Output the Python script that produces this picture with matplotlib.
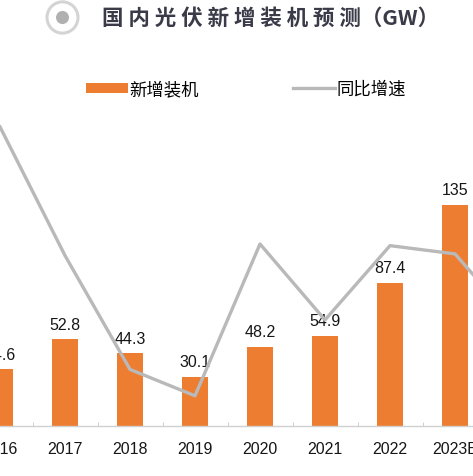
import matplotlib
matplotlib.use("Agg")
import matplotlib.pyplot as plt
from matplotlib.patches import Patch, Circle
from matplotlib.lines import Line2D

plt.rcParams['font.family'] = ['Liberation Sans', 'Noto Sans CJK SC', 'DejaVu Sans']

# ---- data ----
years = ['2016', '2017', '2018', '2019', '2020', '2021', '2022', '2023E', '2024E']
installed = [34.6, 52.8, 44.3, 30.1, 48.2, 54.9, 87.4, 135, 147]   # GW
growth = [131, 53, -16, -32, 60, 14, 59, 54, 9]                      # %
value_labels = ['34.6', '52.8', '44.3', '30.1', '48.2', '54.9', '87.4', '135', '']
title = '国 内 光 伏 新 增 装 机 预 测（GW）'
bar_name = '新增装机'
line_name = '同比增速'

W, H = 473, 477
fig = plt.figure(figsize=(W / 100, H / 100), dpi=100)
fig.patch.set_facecolor('white')

# axes geometry in pixels
px_per_cat = 65.0
x0_px = 0.0                       # centre of first category
left_px = x0_px - 0.5 * px_per_cat
right_px = x0_px + (len(years) - 0.5) * px_per_cat
base_px = 427                     # baseline from top
top_px = 100
ax = fig.add_axes([left_px / W, (H - base_px) / H,
                   (right_px - left_px) / W, (base_px - top_px) / H])
ax.set_facecolor('none')

x = list(range(len(years)))
bars = ax.bar(x, installed, width=0.4, color='#ED7D31', zorder=2)
ax.set_xlim(-0.5, len(years) - 0.5)
ax.set_ylim(0, (base_px - top_px) / 1.64)
ax.bar_label(bars, labels=value_labels, padding=5.5,
             fontsize=11.5, color='#161616', zorder=5)

ax.set_xticks(x)
ax.set_xticklabels(years, fontsize=11.5, color='#161616')
ax.set_xticks([i + 0.5 for i in x[:-1]], minor=True)
ax.tick_params(axis='x', which='major', length=0, pad=11)
ax.tick_params(axis='x', which='minor', direction='in', length=3, color='#c8c8c8')
ax.set_yticks([])
for s in ['top', 'left', 'right']:
    ax.spines[s].set_visible(False)
ax.spines['bottom'].set_color('#d0d0d0')
ax.spines['bottom'].set_linewidth(1.0)

ax2 = ax.twinx()
zero_px = 344
ax2.set_ylim(-(base_px - zero_px) / 1.65, (zero_px - top_px) / 1.65)
ax2.plot(x, growth, color='#b9b9b9', lw=2.4, solid_joinstyle='round', zorder=3)
ax2.set_yticks([])
for s in ax2.spines.values():
    s.set_visible(False)

# legend
handles = [Patch(facecolor='#ED7D31', edgecolor='none'),
           Line2D([0], [0], color='#b9b9b9', lw=2.4)]
fig.legend(handles, [bar_name, line_name], loc='center',
           bbox_to_anchor=(246 / W, (H - 90) / H), ncol=2, frameon=False,
           prop={'family': ['Noto Sans CJK SC', 'DejaVu Sans'], 'size': 12.5},
           handlelength=2.4, handleheight=0.57, handletextpad=0.1,
           columnspacing=5.4, borderpad=0, borderaxespad=0)

# title with icon
fig.text(102 / W, (H - 18) / H, title, ha='left', va='center',
         fontsize=15.5, fontweight='bold', color='#3a3a48',
         family=['Noto Sans CJK SC', 'DejaVu Sans'])
fig.patches.append(Circle((62.5 / W, (H - 18.5) / H), 15.5 / W, transform=fig.transFigure,
                          facecolor='white', edgecolor='#d4d4d4', lw=2.2))
fig.patches.append(Circle((62.5 / W, (H - 18.5) / H), 6.5 / W, transform=fig.transFigure,
                          facecolor='#b0b0b0', edgecolor='none'))

fig.savefig('out.png', dpi=100)
